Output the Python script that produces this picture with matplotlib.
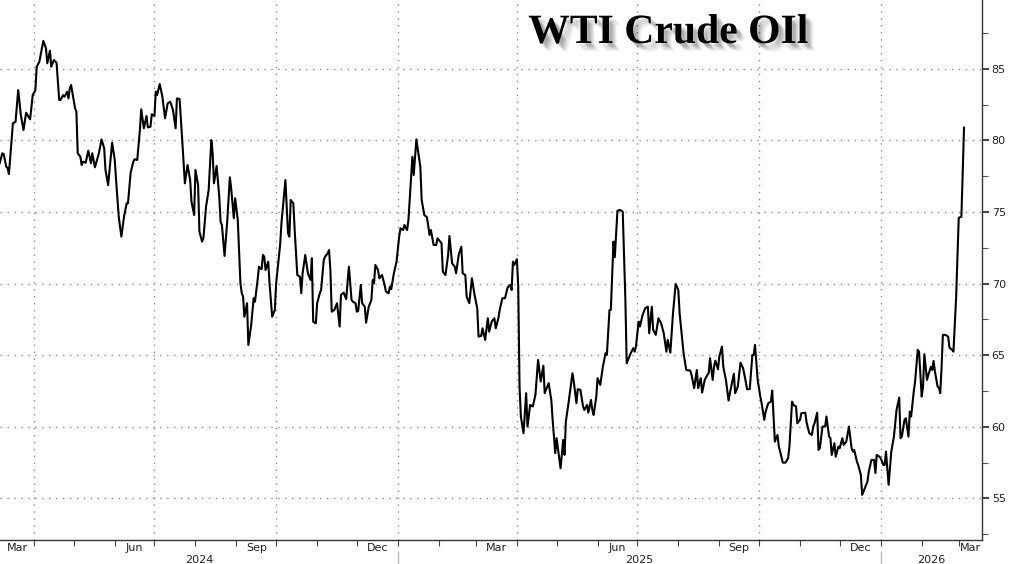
import numpy as np
import pandas as pd
import matplotlib
matplotlib.use("Agg")
import matplotlib.pyplot as plt
import matplotlib.dates as mdates
import matplotlib.patheffects as pe
from matplotlib.transforms import blended_transform_factory

# ---------------- data ----------------
title_text = "WTI Crude OIl"
start_date = "2024-04-01"          # day_offset counts calendar days from this date
day_offset = [
    -26, -24, -23, -21, -20, -19, -17, -16, -14, -12,
    -10, -8, -6, -3, -1, 1, 2, 4, 7, 9,
    10, 12, 13, 15, 17, 19, 20, 22, 23, 25,
    26, 27, 28, 31, 32, 33, 35, 36, 37, 39,
    41, 43, 44, 46, 49, 51, 53, 54, 56, 59,
    61, 62, 64, 66, 68, 70, 71, 73, 75, 76,
    78, 80, 81, 83, 85, 86, 88, 89, 91, 92,
    93, 95, 97, 99, 101, 103, 105, 107, 108, 110,
    112, 114, 116, 118, 119, 121, 122, 124, 125, 127,
    128, 130, 132, 134, 135, 136, 138, 140, 141, 142,
    144, 146, 148, 149, 151, 152, 154, 156, 157, 158,
    159, 161, 162, 164, 166, 167, 169, 170, 172, 173,
    174, 175, 177, 178, 180, 182, 183, 186, 187, 190,
    192, 193, 194, 196, 197, 199, 201, 202, 203, 205,
    207, 209, 210, 211, 213, 214, 216, 217, 219, 220,
    222, 223, 224, 225, 227, 229, 231, 232, 234, 236,
    237, 238, 240, 241, 243, 244, 245, 247, 248, 250,
    251, 253, 255, 256, 257, 258, 260, 261, 263, 265,
    266, 268, 269, 270, 272, 274, 276, 277, 279, 280,
    282, 283, 285, 286, 287, 289, 292, 293, 295, 297,
    299, 300, 302, 304, 305, 308, 309, 311, 313, 314,
    316, 318, 319, 321, 323, 324, 326, 327, 329, 331,
    333, 335, 336, 338, 339, 341, 343, 344, 346, 348,
    349, 351, 352, 354, 356, 358, 360, 361, 362, 363,
    365, 366, 367, 368, 370, 372, 373, 375, 377, 379,
    381, 383, 385, 386, 389, 391, 392, 394, 395, 396,
    398, 400, 401, 402, 404, 407, 408, 410, 411, 413,
    415, 416, 418, 419, 421, 422, 423, 425, 426, 428,
    430, 432, 433, 435, 436, 438, 439, 441, 443, 445,
    447, 448, 450, 451, 453, 454, 455, 457, 458, 460,
    462, 464, 465, 467, 468, 470, 472, 474, 476, 478,
    479, 481, 483, 485, 487, 488, 491, 493, 496, 497,
    499, 501, 502, 504, 505, 507, 509, 510, 511, 513,
    514, 515, 517, 518, 520, 521, 523, 525, 526, 529,
    530, 532, 534, 536, 538, 539, 541, 543, 544, 545,
    547, 549, 550, 552, 553, 555, 557, 558, 560, 562,
    563, 564, 566, 568, 570, 571, 573, 574, 576, 577,
    579, 580, 583, 584, 586, 588, 589, 590, 592, 593,
    594, 596, 598, 599, 601, 602, 603, 605, 606, 608,
    609, 611, 612, 614, 616, 618, 619, 620, 622, 623,
    625, 626, 628, 630, 631, 633, 635, 636, 637, 639,
    640, 642, 643, 644, 646, 648, 650, 652, 654, 655,
    656, 658, 659, 661, 662, 663, 665, 666, 668, 669,
    671, 672, 673, 675, 676, 678, 679, 680, 681, 683,
    684, 685, 686, 687, 689, 691, 692, 694, 695, 697,
    699, 701, 703,
]
wti_price = [
    78.40, 79.10, 79.05, 78.16, 78.07, 77.65, 80.02, 81.19, 81.30, 83.51,
    81.77, 80.72, 81.93, 81.47, 83.16, 83.51, 85.14, 85.49, 86.95, 86.42,
    85.38, 86.26, 85.14, 85.61, 85.42, 82.82, 82.82, 83.16, 83.05, 83.40,
    82.93, 83.63, 83.86, 82.24, 82.00, 79.10, 78.86, 78.28, 78.51, 78.44,
    79.28, 78.40, 79.10, 78.12, 79.10, 80.07, 79.45, 77.93, 76.88, 79.84,
    78.63, 77.23, 74.67, 73.28, 74.67, 75.61, 75.61, 77.74, 78.51, 78.68,
    78.63, 80.72, 82.17, 80.84, 81.70, 80.91, 80.95, 81.82, 81.70, 83.40,
    83.16, 83.93, 83.05, 81.54, 82.59, 82.70, 82.12, 80.84, 82.93, 82.89,
    80.02, 77.00, 78.28, 77.23, 75.72, 74.79, 77.93, 76.88, 73.63, 72.93,
    73.16, 75.37, 76.54, 80.02, 79.10, 77.00, 78.21, 76.07, 74.32, 74.09,
    71.93, 74.32, 77.42, 76.65, 74.56, 75.96, 74.44, 70.02, 69.33, 69.09,
    67.69, 68.63, 65.72, 67.00, 68.98, 68.74, 70.26, 71.18, 71.00, 72.00,
    71.88, 70.95, 71.53, 70.02, 67.69, 68.16, 70.02, 72.70, 74.21, 77.23,
    73.51, 73.28, 75.84, 75.61, 73.74, 70.60, 70.48, 69.33, 70.72, 72.00,
    70.72, 70.26, 71.77, 67.34, 67.23, 68.63, 69.33, 69.56, 71.65, 71.88,
    72.12, 72.35, 70.95, 68.04, 68.16, 68.63, 67.00, 69.21, 69.37, 68.91,
    70.14, 71.18, 68.86, 68.74, 68.63, 68.04, 68.09, 69.91, 68.63, 68.39,
    67.27, 68.39, 68.86, 70.26, 70.02, 71.30, 70.95, 70.37, 70.60, 69.91,
    69.44, 69.33, 69.79, 69.61, 70.72, 71.53, 73.28, 73.86, 73.74, 74.09,
    73.74, 74.44, 77.46, 78.86, 77.58, 80.07, 78.16, 75.84, 74.79, 74.63,
    73.40, 73.74, 72.70, 72.70, 73.16, 72.82, 70.83, 70.60, 72.00, 73.33,
    71.42, 71.18, 70.72, 72.00, 72.58, 70.72, 70.60, 69.09, 68.63, 70.37,
    69.21, 68.28, 66.30, 66.35, 66.88, 66.07, 67.58, 66.65, 67.35, 67.58,
    66.88, 67.58, 68.16, 68.98, 68.98, 69.73, 69.91, 69.56, 71.53, 71.30,
    71.70, 69.79, 62.81, 60.72, 59.56, 62.35, 60.02, 61.53, 61.42, 62.23,
    64.67, 63.16, 64.27, 62.35, 63.05, 61.88, 60.49, 58.16, 59.21, 58.51,
    57.11, 59.09, 58.04, 60.37, 61.65, 63.74, 63.16, 61.65, 62.63, 62.58,
    61.42, 61.18, 61.53, 60.99, 61.88, 61.18, 60.83, 62.11, 63.40, 62.93,
    64.20, 65.14, 65.02, 68.16, 68.16, 72.93, 71.84, 75.09, 75.14, 75.02,
    68.86, 64.44, 64.90, 65.14, 65.49, 65.25, 65.60, 67.35, 67.00, 67.81,
    68.28, 68.39, 66.54, 68.39, 66.77, 66.42, 67.58, 67.23, 66.54, 65.25,
    66.07, 65.18, 67.93, 69.98, 69.56, 67.93, 65.14, 63.97, 63.93, 63.63,
    62.70, 63.97, 62.70, 63.40, 62.39, 63.28, 63.63, 63.74, 64.79, 63.28,
    64.20, 64.62, 64.02, 64.90, 65.60, 64.20, 63.28, 61.83, 62.35, 63.70,
    62.35, 62.81, 64.48, 64.09, 63.16, 62.63, 62.63, 65.02, 65.02, 65.72,
    63.28, 62.11, 61.65, 60.49, 61.06, 61.65, 61.76, 62.53, 58.97, 59.44,
    58.62, 58.27, 57.50, 57.50, 57.81, 58.62, 61.76, 61.53, 61.42, 60.25,
    60.49, 60.95, 60.99, 60.30, 59.56, 59.44, 60.02, 60.25, 60.99, 58.39,
    58.51, 60.02, 60.02, 60.72, 59.32, 59.21, 58.04, 58.86, 57.92, 58.62,
    58.51, 59.21, 58.74, 58.97, 60.02, 58.51, 58.27, 58.39, 57.58, 57.34,
    56.65, 55.25, 55.72, 56.18, 56.88, 57.69, 57.69, 56.77, 58.04, 57.92,
    57.81, 57.34, 57.34, 58.27, 55.95, 58.27, 59.32, 61.18, 62.04, 59.21,
    59.32, 60.49, 60.60, 59.32, 61.06, 60.72, 62.46, 63.16, 65.37, 65.25,
    62.11, 62.81, 65.07, 63.28, 63.63, 64.20, 63.97, 64.60, 63.86, 62.81,
    62.74, 62.35, 64.09, 66.42, 66.42, 66.30, 65.53, 65.37, 65.25, 68.98,
    74.60, 74.67, 80.89,
]
last_value_label = "80.89"
y_ticks = [55, 60, 65, 70, 75, 80, 85]
y_minor_ticks = [52.5, 57.5, 62.5, 67.5, 72.5, 77.5, 82.5, 87.5]
y_limits = (52.1, 89.8)
x_limits = ("2024-03-06 06:00", "2026-03-18 14:00")
month_label_names = {3: "Mar", 6: "Jun", 9: "Sep", 12: "Dec"}
year_labels = [2024, 2025, 2026]

assert len(day_offset) == len(wti_price)
dates = pd.Timestamp(start_date) + pd.to_timedelta(day_offset, unit="D")

# ---------------- figure ----------------
W, H = 1024, 564
fig = plt.figure(figsize=(W / 100, H / 100), dpi=100)
fig.patch.set_facecolor("white")
ax = fig.add_axes([0, 1 - 540 / H, 982 / W, 540 / H])
ax.set_facecolor("white")

ax.plot(dates, wti_price, color="black", lw=1.5, solid_joinstyle="round", zorder=3)

x0 = pd.Timestamp(x_limits[0]); x1 = pd.Timestamp(x_limits[1])
ax.set_xlim(x0, x1)
ax.set_ylim(*y_limits)

# spines
for s in ["left", "top"]:
    ax.spines[s].set_visible(False)
for s in ["right", "bottom"]:
    ax.spines[s].set_color("#333333")
    ax.spines[s].set_linewidth(1.0)

# y axis on the right
ax.yaxis.tick_right()
ax.set_yticks(y_ticks)
ax.set_yticks(y_minor_ticks, minor=True)
ax.tick_params(axis="y", which="major", length=5, width=1.3, colors="#333333",
               labelsize=8, pad=2, labelcolor="#222222")
ax.tick_params(axis="y", which="minor", length=4, width=0.8, colors="#555555")
ax.grid(axis="y", which="major", color="#8a8a8a", linestyle=(0, (1, 4)), lw=1.0)

# x axis: quarter gridlines, monthly ticks, custom labels
ax.xaxis.set_major_locator(mdates.MonthLocator(bymonth=[1, 4, 7, 10]))
ax.xaxis.set_minor_locator(mdates.MonthLocator())
ax.xaxis.set_major_formatter(plt.NullFormatter())
ax.xaxis.set_minor_formatter(plt.NullFormatter())
ax.tick_params(axis="x", which="both", length=4, width=0.8, colors="#444444",
               direction="out", labelbottom=False)
ax.grid(axis="x", which="major", color="#8a8a8a", linestyle=(0, (1, 4)), lw=1.0)
ax.xaxis.get_offset_text().set_visible(False)
ax.yaxis.get_offset_text().set_visible(False)

trans = blended_transform_factory(ax.transData, ax.transAxes)
n0, n1 = mdates.date2num(x0), mdates.date2num(x1)
for m_start in pd.date_range("2024-03-01", "2026-03-01", freq="MS"):
    if m_start.month in month_label_names:
        m_end = m_start + pd.offsets.MonthBegin(1)
        a = max(mdates.date2num(m_start), n0)
        b = min(mdates.date2num(m_end), n1)
        ax.text((a + b) / 2, -0.006, month_label_names[m_start.month], transform=trans,
                ha="center", va="top", fontsize=8, color="#222222", clip_on=False)

for yr in year_labels:
    a = max(mdates.date2num(pd.Timestamp(f"{yr}-01-01")), n0)
    b = min(mdates.date2num(pd.Timestamp(f"{yr + 1}-01-01")), n1)
    ax.text((a + b) / 2, -0.028, str(yr), transform=trans, ha="center", va="top",
            fontsize=8, color="#222222", clip_on=False)
    sep = mdates.date2num(pd.Timestamp(f"{yr}-01-01"))
    if n0 < sep < n1:
        ax.plot([sep, sep], [-0.022, -0.06], transform=trans, color="#bbbbbb",
                lw=1.0, clip_on=False)

# last value tag
ax.annotate(last_value_label, xy=(1.0, wti_price[-1]), xycoords=trans,
            xytext=(1.012, wti_price[-1]), textcoords=trans,
            ha="left", va="center", fontsize=7.5, color="white",
            bbox=dict(boxstyle="larrow,pad=0.18", fc="black", ec="black"),
            annotation_clip=False)

# title with soft drop shadow
shadow = [pe.SimplePatchShadow(offset=(dx, -dy), shadow_rgbFace="#000000", alpha=a)
          for dx, dy, a in [(6, 6, 0.04), (5, 5, 0.07), (4, 4, 0.09), (3, 3, 0.10), (2, 2, 0.08)]]
fig.text(668 / W, 1 - 33 / H, title_text, ha="center", va="center",
         fontsize=30, fontweight="bold", family="Liberation Serif", color="black",
         path_effects=shadow + [pe.Normal()])

fig.savefig("out.png", dpi=100, facecolor="white")
